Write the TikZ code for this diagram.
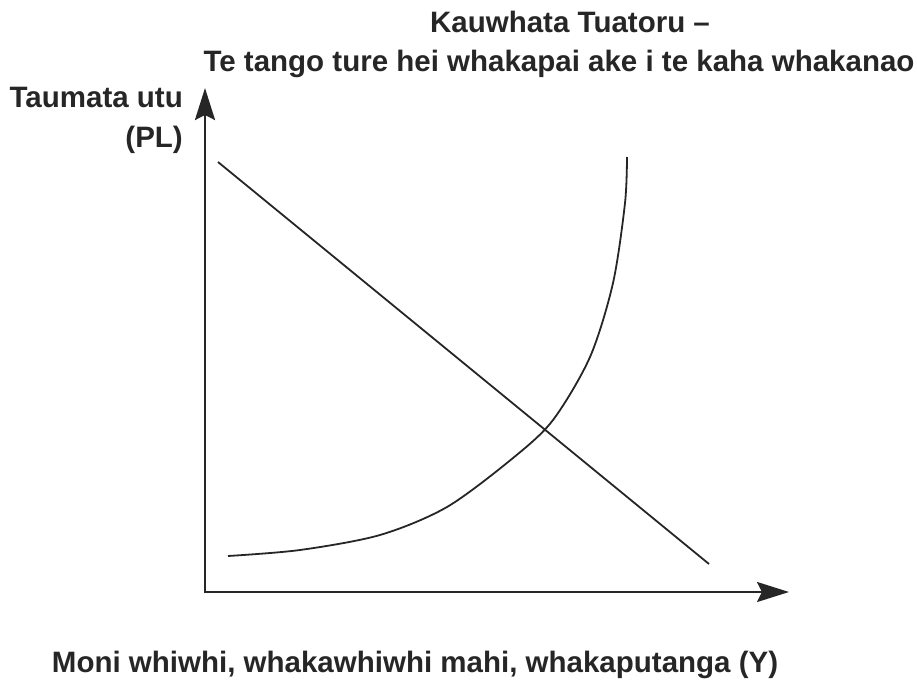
\documentclass[tikz,border=0pt]{standalone}
\usepackage{fontspec}
\setmainfont{Liberation Sans}
\usetikzlibrary{arrows.meta}
\begin{document}
\begin{tikzpicture}[x=1pt,y=-1pt,
  lbl/.style={font=\fontsize{29.5}{34}\selectfont\bfseries, text=black!85, inner sep=0pt},
  axis/.style={line width=2.6pt, draw=black!85, -{Stealth[length=32pt,width=20pt,inset=5pt]}},
  econ/.style={line width=1.8pt, draw=black!85}]
\useasboundingbox (0,0) rectangle (917,682);
% title
\node[lbl, anchor=base] (t1) at (570,33) {Kauwhata Tuatoru –};
\node[lbl, anchor=base] (t2) at (559,72) {Te tango ture hei whakapai ake i te kaha whakanao};
% axis labels
\node[lbl, anchor=base east] (yl1) at (183,108) {Taumata utu};
\node[lbl, anchor=base east] (yl2) at (183,147) {(PL)};
\node[lbl, anchor=base] (xl) at (415,672) {Moni whiwhi, whakawhiwhi mahi, whakaputanga (Y)};
% axes
\coordinate (O) at (205,592);
\coordinate (ytip) at (205,88);
\coordinate (xtip) at (789,592);
\draw[axis, shorten <=-1.3pt] (O) -- (ytip);
\draw[axis, shorten <=-1.3pt] (O) -- (xtip);
% demand line
\coordinate (d1) at (218,162);
\coordinate (d2) at (709,564);
\draw[econ] (d1) -- (d2);
% supply curve
\draw[econ] plot[smooth, tension=0.5] coordinates {(228,556) (300,550) (380,535) (447,507) (513,458) (553,420) (590,357) (613,283) (625,203) (627,157)};
\end{tikzpicture}
\end{document}
